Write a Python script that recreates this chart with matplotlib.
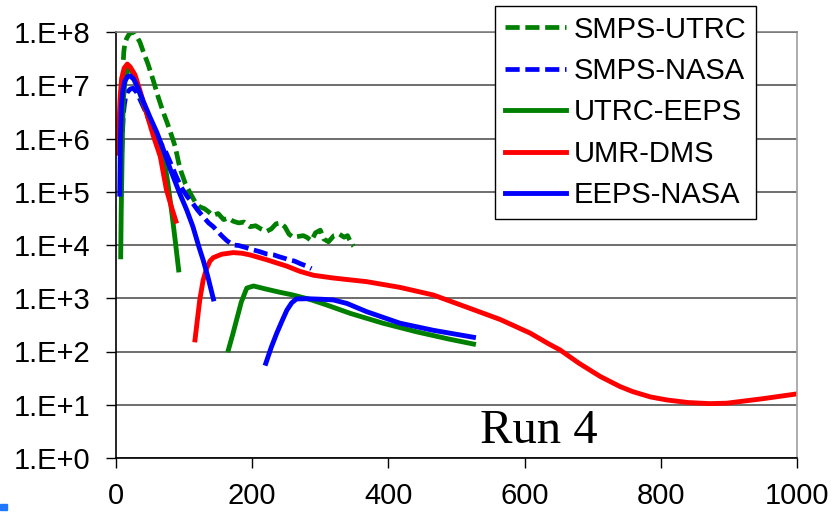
import numpy as np
import matplotlib
matplotlib.use("Agg")
import matplotlib.pyplot as plt
from matplotlib.patches import Rectangle

plt.rcParams["font.family"] = ["Liberation Sans", "DejaVu Sans"]

# SMPS-UTRC (green, dashed)
smps_utrc_x = [10.8, 11.5, 13, 15.7, 19, 24, 28, 35, 40, 47, 55, 62, 69, 75, 81, 87,
               92, 96, 102, 109, 116, 123, 130, 136, 142, 150, 158, 165, 172, 180,
               188, 197, 205, 213, 221, 228, 235, 241, 248, 254, 260, 268, 275, 280,
               287, 293, 300, 305, 312, 320, 328, 335, 340, 345, 349]
smps_utrc_y = [3.0e7, 4.3e7, 6.0e7, 7.6e7, 9.0e7, 1.0e8, 9.3e7, 6.5e7, 4.3e7, 2.5e7,
               1.2e7, 6.0e6, 3.2e6, 2.0e6, 1.2e6, 7.0e5, 3.5e5, 2.3e5, 1.4e5, 9.4e4,
               6.5e4, 5.2e4, 4.8e4, 4.2e4, 3.6e4, 3.9e4, 3.0e4, 3.2e4, 2.8e4, 2.6e4,
               2.7e4, 2.2e4, 2.3e4, 2.0e4, 1.8e4, 2.0e4, 2.5e4, 2.6e4, 2.2e4, 1.6e4,
               1.4e4, 1.45e4, 1.5e4, 1.4e4, 1.2e4, 1.7e4, 1.9e4, 1.3e4, 1.15e4, 1.5e4,
               1.6e4, 1.4e4, 1.5e4, 1.1e4, 9.5e3]

# SMPS-NASA (blue, dashed)
smps_nasa_x = [7.5, 8.5, 9.5, 10.5, 12, 14, 17, 21, 25, 30, 35, 42, 50, 58, 66, 72,
               80, 88, 96, 105, 113, 120, 128, 136, 143, 155, 163, 172, 180, 190,
               200, 211, 221, 232, 240, 248, 255, 262, 270, 278, 287]
smps_nasa_y = [1.0e5, 6.0e5, 1.2e6, 2.5e6, 4.0e6, 6.0e6, 7.5e6, 8.5e6, 8.8e6, 7.5e6,
               5.5e6, 3.5e6, 2.0e6, 1.2e6, 8.0e5, 6.0e5, 3.5e5, 2.0e5, 1.2e5, 8.0e4,
               6.0e4, 4.5e4, 3.4e4, 2.6e4, 2.2e4, 1.5e4, 1.2e4, 1.0e4, 9.8e3, 9.0e3,
               8.2e3, 7.5e3, 6.8e3, 6.5e3, 6.0e3, 5.6e3, 5.2e3, 5.0e3, 4.5e3, 4.1e3,
               3.6e3]

# UTRC-EEPS (green, solid) - two segments
utrc_eeps_x1 = [6.9, 7.6, 8.5, 9.5, 11, 14, 19, 24, 30, 40, 50, 60, 70, 76, 82, 87, 92]
utrc_eeps_y1 = [6.0e3, 4.0e4, 2.0e5, 1.5e6, 6.0e6, 1.5e7, 2.1e7, 1.8e7, 1.1e7, 4.5e6,
                2.0e6, 1.0e6, 4.5e5, 1.5e5, 4.0e4, 1.2e4, 3.4e3]
utrc_eeps_x2 = [165, 171, 177, 184, 192, 202, 221, 240, 260, 285, 309, 344, 392, 441,
                490, 525]
utrc_eeps_y2 = [107, 200, 390, 850, 1.55e3, 1.7e3, 1.48e3, 1.3e3, 1.15e3, 950, 750,
                520, 340, 235, 170, 138]

# UMR-DMS (red, solid) - two segments
umr_dms_x1 = [3.4, 4.5, 6, 8.3, 12, 16.6, 21, 28, 35, 40, 50, 55, 65, 74, 82, 88]
umr_dms_y1 = [5.3e5, 2.0e6, 5.7e6, 1.35e7, 2.1e7, 2.5e7, 2.2e7, 1.56e7, 8.1e6, 4.9e6,
              1.8e6, 1.1e6, 4.6e5, 1.1e5, 4.9e4, 2.8e4]
umr_dms_x2 = [116, 119, 123, 128, 133, 138, 143, 155, 172, 185, 197, 221, 251, 270,
              290, 319, 368, 417, 466, 515, 564, 608, 635, 652, 680, 711, 740, 759,
              785, 809, 840, 872, 897, 950, 1000]
umr_dms_y2 = [165, 350, 930, 2.2e3, 3.6e3, 5.0e3, 5.8e3, 6.7e3, 7.2e3, 7.0e3, 6.5e3,
              5.3e3, 4.0e3, 3.2e3, 2.7e3, 2.4e3, 2.05e3, 1.6e3, 1.15e3, 680, 400, 222,
              140, 107, 60, 34, 22, 17.6, 14, 12.3, 11, 10.5, 10.7, 13, 16]

# EEPS-NASA (blue, solid) - two segments
eeps_nasa_x1 = [5.5, 6.5, 8, 10, 13, 17, 21, 26, 32, 40, 50, 60, 70, 80, 94, 104, 113,
                122, 128, 135, 143]
eeps_nasa_y1 = [9.0e4, 1.0e6, 4.0e6, 8.0e6, 1.2e7, 1.45e7, 1.5e7, 1.3e7, 9.0e6, 5.0e6,
                2.5e6, 1.3e6, 6.0e5, 2.6e5, 9.0e4, 4.5e4, 2.2e4, 9.0e3, 5.2e3, 2.5e3,
                970]
eeps_nasa_x2 = [220, 228, 236, 244, 251, 258, 265, 280, 300, 319, 339, 368, 417, 466,
                525]
eeps_nasa_y2 = [60, 120, 220, 380, 600, 820, 970, 980, 960, 930, 800, 560, 340, 250,
                185]

legend_labels = ["SMPS-UTRC", "SMPS-NASA", "UTRC-EEPS", "UMR-DMS", "EEPS-NASA"]
y_ticks = [10 ** i for i in range(9)]
y_tick_labels = [f"1.E+{i}" for i in range(9)]
x_ticks = [0, 200, 400, 600, 800, 1000]

green = "#008000"
red = "#ff0000"
blue = "#0000ff"

fig = plt.figure(figsize=(8.32, 5.12), dpi=100)
ax = fig.add_axes([116 / 832, 1 - 458 / 512, (797 - 116) / 832, (458 - 32) / 512])

dash = (0, (3, 1.2))
lw = 3.5
h1, = ax.plot(smps_utrc_x, smps_utrc_y, color=green, lw=3.4, ls=dash)
h2, = ax.plot(smps_nasa_x, smps_nasa_y, color=blue, lw=3.4, ls=dash)
h3, = ax.plot(utrc_eeps_x1, utrc_eeps_y1, color=green, lw=lw, solid_joinstyle="round")
ax.plot(utrc_eeps_x2, utrc_eeps_y2, color=green, lw=lw, solid_joinstyle="round")
h4, = ax.plot(umr_dms_x1, umr_dms_y1, color=red, lw=lw, solid_joinstyle="round")
ax.plot(umr_dms_x2, umr_dms_y2, color=red, lw=lw, solid_joinstyle="round")
h5, = ax.plot(eeps_nasa_x1, eeps_nasa_y1, color=blue, lw=lw, solid_joinstyle="round")
ax.plot(eeps_nasa_x2, eeps_nasa_y2, color=blue, lw=lw, solid_joinstyle="round")

ax.set_yscale("log")
ax.set_xlim(0, 1000)
ax.set_ylim(1, 1e8)
ax.set_yticks(y_ticks)
ax.set_yticklabels(y_tick_labels)
ax.yaxis.set_minor_locator(matplotlib.ticker.NullLocator())
ax.set_xticks(x_ticks)

ax.yaxis.grid(True, color="#555555", lw=1.2)
ax.set_axisbelow(True)
ax.spines["top"].set_color("#808080")
ax.spines["top"].set_linewidth(1.2)
ax.spines["right"].set_color("#a0a0a0")
ax.spines["right"].set_linewidth(1.2)
ax.spines["left"].set_linewidth(1.2)
ax.spines["bottom"].set_linewidth(1.2)

ax.tick_params(axis="y", direction="out", length=7, width=1, pad=11.5, labelsize=21)
ax.tick_params(axis="x", direction="out", length=7, width=1, pad=10.5, labelsize=21)

ax.text(535, 1.9, "Run 4", family=["Liberation Serif", "DejaVu Serif"], fontsize=35,
        ha="left", va="baseline")

leg = ax.legend([h1, h2, h3, h4, h5], legend_labels, loc="upper left",
                bbox_to_anchor=(495 / 832, 1 - 6 / 512), bbox_transform=fig.transFigure,
                frameon=True, fancybox=False, edgecolor="black", framealpha=1,
                fontsize=21, handlelength=2.1, handletextpad=0.28, labelspacing=0.46,
                borderpad=0.33, borderaxespad=0)
leg.get_frame().set_linewidth(1.0)

fig.patches.append(Rectangle((0, 2 / 512), 7 / 832, 6 / 512, transform=fig.transFigure,
                             color="#1f78ff"))

fig.savefig("out.png", dpi=100)
